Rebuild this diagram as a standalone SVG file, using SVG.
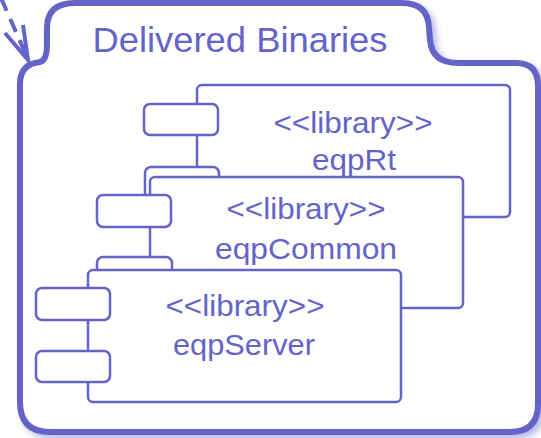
<svg xmlns="http://www.w3.org/2000/svg" width="541" height="438" viewBox="0 0 541 438">
<style>
.pkg{fill:#ffffff;stroke:#6464c8;stroke-width:6;stroke-linejoin:round}
.body{fill:#ffffff;stroke:#6464c8;stroke-width:2.5}
.port{fill:#ffffff;stroke:#6464c8;stroke-width:2.5}
.t{font-family:"Liberation Sans",Arial,sans-serif;fill:#6464c8;text-anchor:middle}
.title{font-size:35px}
.lbl{font-size:29px}
.arrow{fill:none;stroke:#6464c8;stroke-width:4;stroke-linecap:butt}
</style>
<defs>
<filter id="sh" x="-10%" y="-10%" width="120%" height="120%">
<feDropShadow dx="4" dy="4" stdDeviation="3" flood-color="#6464c8" flood-opacity="0.45"/>
</filter>
</defs>
<g id="package">
<path class="pkg" filter="url(#sh)" d="M20,400 L20,84 Q20,64 40,62 Q47,60 47,45 L47,28 Q47,3 75,3 L402,3 Q428,3 429,28 L430,40 Q432,63 458,63 L516,63 Q538,63 538,86 L538,404 Q538,432 510,432 L50,432 Q20,432 20,402 Z"/>
<text class="t title" x="240" y="52" textLength="295" lengthAdjust="spacingAndGlyphs">Delivered Binaries</text>
</g>
<g id="connectors">
<path class="arrow" d="M1,-2 L27,57" stroke-dasharray="14,9"/>
<path class="arrow" d="M5,33 L28,60 L23,25" stroke-linejoin="miter"/>
</g>
<g id="eqpRt">
<rect class="body" x="197" y="85" width="313" height="132" rx="5"/>
<rect class="port" x="144" y="104" width="74" height="31" rx="6"/>
<rect class="port" x="145" y="167" width="74" height="32" rx="6"/>
<text class="t lbl" x="353" y="133" textLength="159" lengthAdjust="spacingAndGlyphs">&lt;&lt;library&gt;&gt;</text>
<text class="t lbl" x="354" y="170" textLength="84" lengthAdjust="spacingAndGlyphs">eqpRt</text>
</g>
<g id="eqpCommon">
<rect class="body" x="150" y="177" width="313" height="131" rx="5"/>
<rect class="port" x="97" y="195" width="74" height="32" rx="6"/>
<rect class="port" x="97" y="257" width="75" height="32" rx="6"/>
<text class="t lbl" x="306" y="219" textLength="159" lengthAdjust="spacingAndGlyphs">&lt;&lt;library&gt;&gt;</text>
<text class="t lbl" x="306" y="259" textLength="182" lengthAdjust="spacingAndGlyphs">eqpCommon</text>
</g>
<g id="eqpServer">
<rect class="body" x="88" y="270" width="313" height="132" rx="5"/>
<rect class="port" x="36" y="288" width="74" height="32" rx="6"/>
<rect class="port" x="36" y="351" width="74" height="31" rx="6"/>
<text class="t lbl" x="245" y="316" textLength="159" lengthAdjust="spacingAndGlyphs">&lt;&lt;library&gt;&gt;</text>
<text class="t lbl" x="244" y="355" textLength="142" lengthAdjust="spacingAndGlyphs">eqpServer</text>
</g>
</svg>
